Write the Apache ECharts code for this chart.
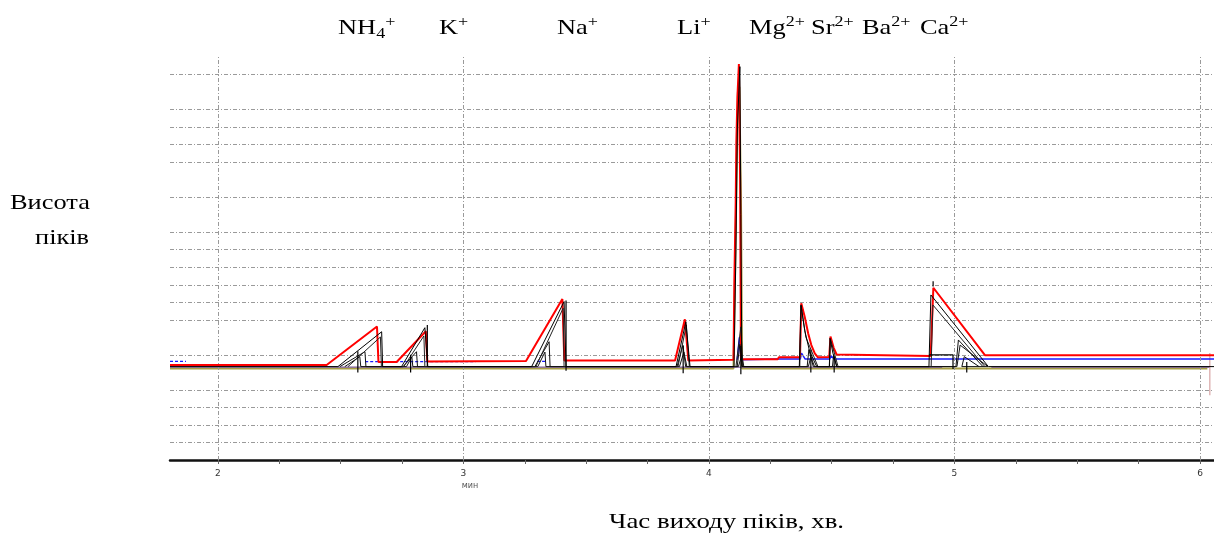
<!DOCTYPE html>
<html>
<head>
<meta charset="utf-8">
<script src="https://cdn.jsdelivr.net/npm/echarts@6/dist/echarts.min.js"></script>
<style>
html,body{margin:0;padding:0;background:#fff;}
#chart{width:1214px;height:535px;}
</style>
</head>
<body>
<div id="chart"></div>
<script>
// ---- axis definitions (minutes / gridline units) ----
var xLabelValues = [2, 3, 4, 5, 6];
var xTickValues = [2, 2.25, 2.5, 2.75, 3, 3.25, 3.5, 3.75, 4, 4.25, 4.5, 4.75, 5, 5.25, 5.5, 5.75, 6];
var xGridValues = [2, 3, 4, 5, 6];
var yGridValues = [1, 2, 3, 4, 6, 8, 9, 10, 11, 12, 13, 15, 17, 18, 19, 20, 22];

// ---- ion labels ----
var ionLabels = ['{b|NH}{sub|4}{sup|+}', '{b|K}{sup|+}', '{b|Na}{sup|+}', '{b|Li}{sup|+}',
                 '{b|Mg}{sup|2+}', '{b|Sr}{sup|2+}', '{b|Ba}{sup|2+}', '{b|Ca}{sup|2+}'];
var ionLabelX = [338, 439, 557, 677, 749, 811, 862, 920];

// ---- traces [time, height] ----
var redTrace = [
  [1.805,5.42],[2.443,5.42],[2.648,7.62],[2.654,5.59],[2.728,5.59],[2.847,7.35],[2.853,5.62],
  [3.255,5.65],[3.403,9.19],[3.411,5.68],[3.862,5.68],[3.902,8.03],[3.916,5.68],
  [4.100,5.72],[4.1036,10.3],[4.109,14.7],[4.1116,18.1],[4.116,20.7],[4.122,22.6],[4.127,16],[4.1303,5.75],
  [4.280,5.75],[4.285,5.87],[4.371,5.87],[4.376,8.94],[4.390,8.18],[4.404,7.23],[4.417,6.56],[4.431,6.09],[4.444,5.86],
  [4.490,5.88],[4.495,7.05],[4.508,6.4],[4.520,6.02],[4.526,5.92],
  [4.903,5.94],[4.914,9.83],[5.124,5.98],[6.057,5.98]
];
var black1 = [
  [1.805,5.33],[2.489,5.33],[2.667,7.32],[2.671,5.33],[2.748,5.33],[2.843,7.55],[2.855,5.33],
  [3.278,5.33],[3.410,9.04],[3.418,5.33],[3.866,5.33],[3.906,7.89],[3.923,5.33],
  [4.102,5.33],[4.110,12.0],[4.116,19.0],[4.126,22.45],[4.130,14.0],[4.134,5.33],
  [4.368,5.33],[4.375,8.85],[4.390,7.4],[4.410,6.2],[4.439,5.33],
  [4.491,5.33],[4.493,6.95],[4.505,6.1],[4.521,5.33],
  [4.896,5.33],[4.904,9.42],[5.138,5.33],[6.057,5.33]
];
var black2 = [
  [2.530,5.33],[2.662,7.02],[2.666,5.33],[2.757,5.33],[2.839,7.08],[2.843,5.33],
  [3.295,5.33],[3.406,8.66],[3.410,5.33],[3.874,5.33],[3.908,7.71],[3.920,5.33],
  [4.110,5.33],[4.130,7.6],[4.138,5.33],[4.370,5.33],[4.375,8.79],[4.395,7.0],[4.444,5.33],
  [4.490,5.33],[4.495,6.9],[4.526,5.33],[4.905,5.33],[4.912,8.85],[5.124,5.33]
];
var black3 = [
  [2.497,5.33],[2.599,6.18],[2.603,5.33],[2.754,5.33],[2.809,6.18],[2.813,5.33],
  [3.291,5.33],[3.349,6.75],[3.353,5.33],[3.870,5.33],[3.894,6.56],[3.905,5.33],
  [4.115,5.33],[4.126,6.6],[4.136,5.33],[4.400,5.33],[4.407,6.3],[4.425,5.33],
  [4.503,5.33],[4.508,6.0],[4.520,5.33],[5.006,5.33],[5.016,6.85],[5.116,5.33]
];
var black4 = [
  [2.517,5.33],[2.578,5.90],[2.582,5.33],[2.768,5.33],[2.790,5.88],[2.794,5.33],
  [3.303,5.33],[3.332,6.16],[3.336,5.33],[3.880,5.33],[3.898,6.16],[3.910,5.33],
  [4.120,5.33],[4.134,6.0],[4.142,5.33],[4.405,5.33],[4.415,5.9],[4.430,5.33],
  [5.010,5.33],[5.023,6.56],[5.136,5.33],[5.030,5.33],[5.040,5.9],[5.100,5.33]
];
// peak marker segments: [time, from, to]
var peakMarks = [
  [2.570,5.0,6.2],[2.785,5.0,6.0],[2.853,5.33,7.7],[3.418,5.1,9.1],[3.895,4.95,6.5],
  [4.130,4.9,6.5],[4.415,5.0,6.3],[4.510,5.0,5.9],[4.913,9.9,10.2],[5.050,5.0,5.6]
];
var caBaseMark = [[4.896,6.0],[4.994,6.0],[4.994,5.2]];
var blueDashSegs = [
  [[1.805,5.63],[1.870,5.63]],
  [[2.600,5.62],[3.050,5.62]],
  [[3.300,5.63],[3.340,5.63]]
];
var blueSolid = [
  [4.115,5.72],[4.124,7.0],[4.130,5.72],[4.280,5.76],[4.372,5.76],[4.377,6.1],[4.392,5.76],
  [4.492,5.76],[4.497,5.95],[4.510,5.76],[6.057,5.76]
];
var oliveTrace = [
  [1.805,5.22],[4.100,5.22],[4.108,12.0],[4.118,21.0],[4.124,21.3],[4.131,14.0],[4.135,5.22],[6.030,5.22]
];
var purpleSegs = [
  [[1.805,5.30],[4.950,5.30]],
  [[5.150,5.30],[6.040,5.30]]
];
var pinkEdge = [[6.040,6.1],[6.040,3.7]];

function joinSegs(segs) {
  var out = [];
  segs.forEach(function (s, i) {
    if (i > 0) out.push(['-', '-']);
    s.forEach(function (p) { out.push(p); });
  });
  return out;
}
var markData = joinSegs(peakMarks.map(function (m) { return [[m[0], m[1]], [m[0], m[2]]]; }).concat([caBaseMark]));

function lineSeries(name, data, color, width, z, dash) {
  return {
    name: name, type: 'line', data: data, showSymbol: false, symbol: 'none',
    connectNulls: false, silent: true, z: z,
    lineStyle: { color: color, width: width, type: dash || 'solid' }
  };
}

var gridStyle = { color: '#9a9a9a', width: 1, type: [4, 2, 1, 2] };

var chart = echarts.init(document.getElementById('chart'), null, { renderer: 'canvas' });
var serifFont = '"Liberation Serif", "DejaVu Serif", serif';
var richStyle = {
  b: { fontSize: 22, fontFamily: serifFont, color: '#000', lineHeight: 27 },
  sub: { fontSize: 15, fontFamily: serifFont, color: '#000', lineHeight: 15, verticalAlign: 'bottom' },
  sup: { fontSize: 15, fontFamily: serifFont, color: '#000', lineHeight: 15, verticalAlign: 'top' }
};
var stretch = 1.2;

var graphics = ionLabels.map(function (t, i) {
  return { type: 'text', x: ionLabelX[i], y: 28, scaleX: stretch, style: { text: t, rich: richStyle, verticalAlign: 'middle', align: 'left' } };
});
graphics.push({ type: 'text', x: 10, y: 203, scaleX: stretch, style: { text: 'Висота', font: '22px ' + serifFont, fill: '#000', verticalAlign: 'middle' } });
graphics.push({ type: 'text', x: 35, y: 238, scaleX: stretch, style: { text: 'піків', font: '22px ' + serifFont, fill: '#000', verticalAlign: 'middle' } });
graphics.push({ type: 'text', x: 609, y: 522, scaleX: 1.22, style: { text: 'Час виходу піків, хв.', font: '22px ' + serifFont, fill: '#000', verticalAlign: 'middle' } });
graphics.push({ type: 'text', x: 470, y: 486, style: { text: 'мин', font: '8px "DejaVu Sans", sans-serif', fill: '#555', align: 'center', verticalAlign: 'middle' } });

var series = [
  {
    type: 'line', data: [[1.805, 0]], symbol: 'none', silent: true, z: 1,
    lineStyle: { width: 0, opacity: 0 },
    markLine: {
      silent: true, symbol: 'none', animation: false, label: { show: false },
      lineStyle: gridStyle,
      data: yGridValues.map(function (v) { return { yAxis: v }; })
        .concat(xGridValues.map(function (v) { return { xAxis: v }; }))
    }
  },
  lineSeries('olive', oliveTrace, '#a89f45', 2, 2),
  lineSeries('purple', joinSegs(purpleSegs), '#7b5a94', 1.3, 3),
  lineSeries('pink', pinkEdge, '#d8a4a4', 1.2, 3),
  lineSeries('blueDash', joinSegs(blueDashSegs), '#1a1aff', 1.3, 4, [3, 2]),
  lineSeries('blue', blueSolid, '#1a1aff', 1.5, 4),
  lineSeries('red', redTrace, '#ff0000', 2, 5),
  lineSeries('black4', black4, '#111', 1, 6),
  lineSeries('black3', black3, '#111', 1, 6),
  lineSeries('black2', black2, '#222', 1, 6),
  lineSeries('black1', black1, '#000', 1, 7),
  lineSeries('marks', markData, '#000', 1.2, 8)
];

chart.setOption({
  animation: false,
  backgroundColor: '#fff',
  grid: { left: 170, right: 0, top: 57, bottom: 75, containLabel: false },
  xAxis: {
    type: 'value', min: 1.805, max: 6.057,
    axisLine: { show: true, onZero: false, lineStyle: { color: '#111', width: 2.5 } },
    axisTick: { show: true, customValues: xTickValues, length: 4, lineStyle: { color: '#666', width: 1 } },
    axisLabel: { show: true, customValues: xLabelValues, margin: 9, fontSize: 9, color: '#333', fontFamily: '"DejaVu Sans", sans-serif' },
    splitLine: { show: false }
  },
  yAxis: {
    type: 'value', min: 0, max: 23,
    axisLine: { show: false }, axisTick: { show: false }, axisLabel: { show: false }, splitLine: { show: false }
  },
  graphic: graphics,
  series: series
});
</script>
</body>
</html>
